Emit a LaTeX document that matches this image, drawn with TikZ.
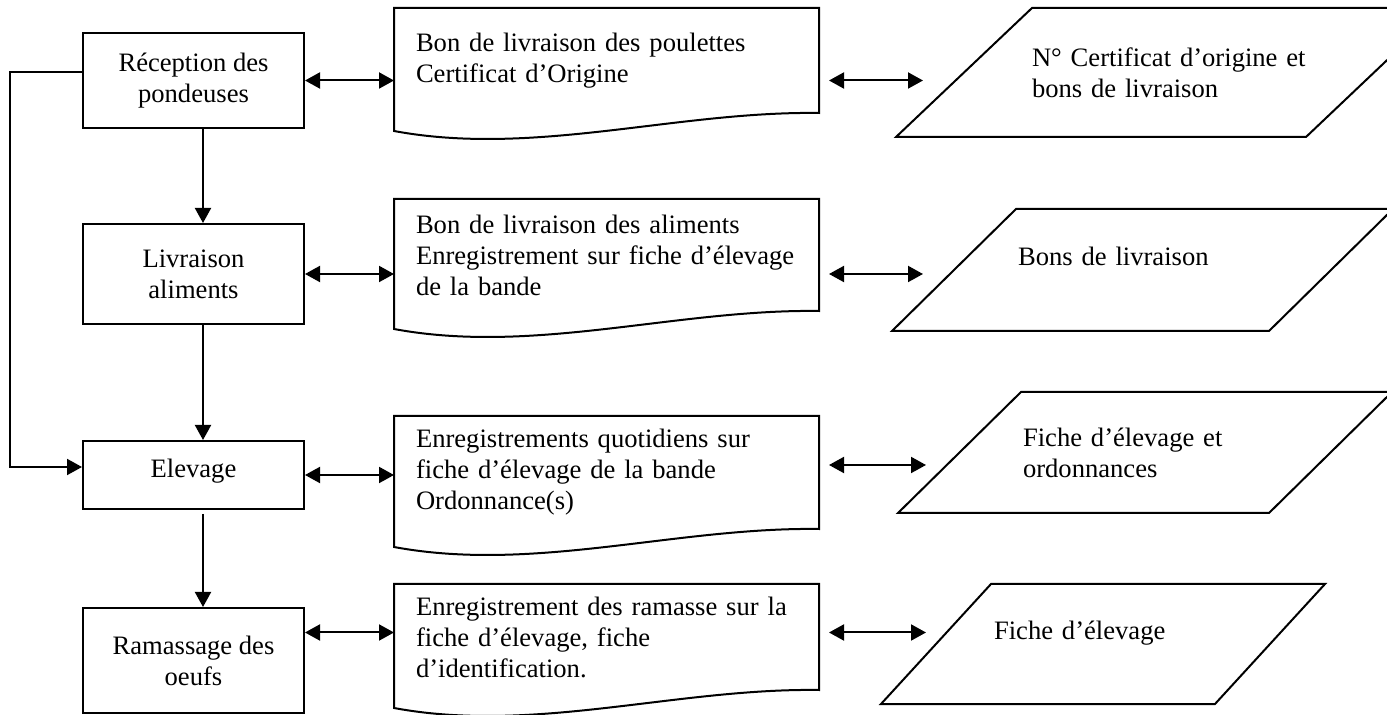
\documentclass[tikz,border=0pt]{standalone}
\usepackage{fontspec}
\setmainfont{Liberation Serif}
\usetikzlibrary{arrows.meta}
\tikzset{
    etape/.style    = {shape=rectangle, draw, align=center,
        minimum width=110.5pt, font=\fontsize{13.3}{15.5}\selectfont},
    docu/.style     = {shape=rectangle, align=left, text width=190.5pt,
        inner xsep=10.5pt, font=\fontsize{13.3}{15.5}\selectfont},
    registre/.style = {shape=rectangle, align=left, inner sep=0pt,
        font=\fontsize{13.3}{15.5}\selectfont},
    fleche/.style   = {-{Triangle[length=7.5pt,width=8pt]}},
    dfleche/.style  = {{Triangle[length=7.5pt,width=8pt]}-{Triangle[length=7.5pt,width=8pt]}}
}
\begin{document}
\begin{tikzpicture}[x=0.5pt, y=-0.5pt, line width=1pt]
    \useasboundingbox (0,0) rectangle (1387,715);
    \node[etape, minimum height=47.5pt] (recep) at (193.5,80.5) {Réception des\\pondeuses};
    \node[etape, minimum height=50pt] (livr) at (193.5,274) {Livraison\\aliments};
    \node[etape, minimum height=34pt, text depth=6.5pt] (elev) at (193.5,475) {Elevage};
    \node[etape, minimum height=52.5pt] (ramas) at (193.5,660.5) {Ramassage des\\oeufs};

    \node[docu, minimum height=51.5pt] (bonpoul) at (606.5,60.5)
        {Bon de livraison des poulettes\\Certificat d’Origine};
    \node[docu, minimum height=55pt] (bonalim) at (606.5,255)
        {Bon de livraison des aliments\\Enregistrement sur fiche d’élevage\\de la bande};
    \node[docu, minimum height=55.5pt] (enrquot) at (606.5,472.5)
        {Enregistrements quotidiens sur\\fiche d’élevage de la bande\\Ordonnance(s)};
    \node[docu, minimum height=52pt] (enrram) at (606.5,637)
        {Enregistrement des ramasse sur la\\fiche d’élevage, fiche\\d’identification.};

    \node[registre, minimum width=204pt, minimum height=63.5pt, text width=137pt] (certif) at (1169,72.5)
        {N° Certificat d’origine et\\bons de livraison};
    \node[registre, minimum width=187.5pt, minimum height=60pt, text width=124.5pt, text depth=14pt] (bons) at (1142.5,270)
        {Bons de livraison};
    \node[registre, minimum width=184.5pt, minimum height=59.5pt, text width=122pt] (ficheord) at (1145,452.5)
        {Fiche d’élevage et\\ordonnances};
    \node[registre, minimum width=166pt, minimum height=59pt, text width=109pt, text depth=14pt] (fiche) at (1103,644)
        {Fiche d’élevage};

    \foreach \d in {bonpoul,bonalim,enrquot,enrram}
        \draw ([yshift=-9pt]\d.south west) -- (\d.north west) -- (\d.north east) -- (\d.south east)
            .. controls +(-71.5pt,1pt) and +(70pt,-13pt) .. ([yshift=-9pt]\d.south west) -- cycle;
    \foreach \r/\s in {certif/34pt,bons/31pt,ficheord/30.75pt,fiche/27.5pt}
        \draw ([xshift=-\s]\r.south west) -- ([xshift=-\s]\r.south east)
            -- ([xshift=\s]\r.north east) -- ([xshift=\s]\r.north west) -- cycle;

    \draw[fleche] ([xshift=4.75pt]recep.south) -- ([xshift=4.75pt]livr.north);
    \draw[fleche] ([xshift=4.75pt]livr.south) -- ([xshift=4.75pt]elev.north);
    \draw[fleche, shorten <=2pt] ([xshift=4.75pt]elev.south) -- ([xshift=4.75pt]ramas.north);
    \draw[fleche] ([yshift=4.25pt]recep.west) -- ++(-36pt,0) |- ([yshift=4pt]elev.west);

    \draw[dfleche] (recep.east) -- (recep.east -| bonpoul.west);
    \draw[dfleche] (livr.east) -- (livr.east -| bonalim.west);
    \draw[dfleche] (elev.east) -- (elev.east -| enrquot.west);
    \draw[dfleche] ([yshift=14pt]ramas.east) -- ([yshift=14pt]ramas.east -| enrram.west);

    \draw[dfleche, shorten <=5pt, shorten >=20.5pt] (recep.east -| bonpoul.east) -- (recep.east -| certif.west);
    \draw[dfleche, shorten <=5pt, shorten >=15.5pt] (livr.east -| bonalim.east) -- (livr.east -| bons.west);
    \draw[dfleche, shorten <=5pt, shorten >=16.75pt] ([yshift=5pt]elev.east -| enrquot.east) -- ([yshift=5pt]elev.east -| ficheord.west);
    \draw[dfleche, shorten <=5pt, shorten >=5pt] ([yshift=14pt]ramas.east -| enrram.east) -- ([yshift=14pt]ramas.east -| fiche.west);
\end{tikzpicture}
\end{document}
